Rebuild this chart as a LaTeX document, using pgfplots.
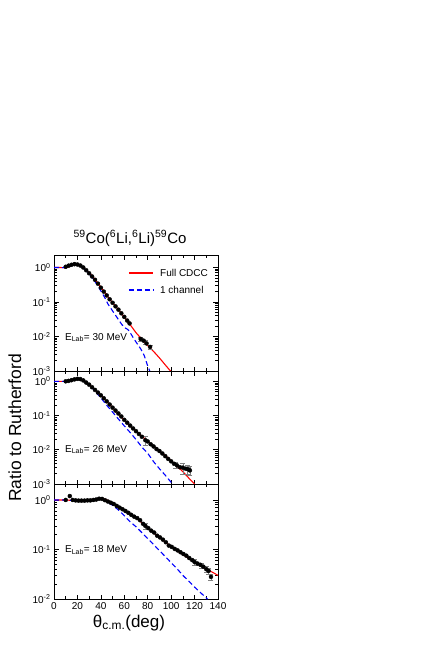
\documentclass[border=0pt]{standalone}
\usepackage{fontspec}
\setmainfont{Liberation Sans}
\usepackage{pgfplots}
\pgfplotsset{compat=1.18}

\definecolor{cdcc}{RGB}{255,0,0}
\definecolor{onech}{RGB}{0,0,255}

\begin{document}
\begin{tikzpicture}
\useasboundingbox (0,0) rectangle (436pt,-654pt);

\node[anchor=base, font=\fontsize{15}{18}\selectfont] at (130pt,-243pt)
  {\textsuperscript{59}Co(\textsuperscript{6}Li,\textsuperscript{6}Li)\textsuperscript{59}Co};

% 30 MeV
\begin{axis}[at={(54pt,-255pt)}, anchor=north west,
  scale only axis, width=164pt, height=116pt,
  xmin=0, xmax=140, ymode=log, ymin=0.001, ymax=2.3,
  xtick={0,20,40,60,80,100,120,140}, minor x tick num=1, xticklabels={},
  ytick={0.001,0.01,0.1,1},
  yticklabels={10\textsuperscript{-3},10\textsuperscript{-2},10\textsuperscript{-1},10\textsuperscript{0}},
  tick align=inside, axis line style={line width=0.9pt}, tick style={line width=0.7pt, black},
  major tick length=4.5pt, minor tick length=2.6pt,
  ticklabel style={font=\fontsize{10}{12}\selectfont}]
\addplot[draw=cdcc, line width=1.1pt, mark=none] coordinates {
(0,1) (5,1) (8,0.99) (10,0.98) (13,1.05) (16,1.2) (19,1.26) (22,1.17) (25,0.98)
(28,0.82) (31,0.65) (34,0.5) (37,0.37) (40,0.27) (43,0.2) (46,0.141) (50,0.095)
(55,0.06) (60,0.037) (65,0.022) (70,0.0129) (75,0.0083) (80,0.0055) (85,0.0037)
(90,0.0024) (95,0.0015) (100,0.00095)};
\addplot[draw=onech, line width=1.1pt, mark=none, dash pattern=on 5pt off 3pt] coordinates {
(0,1) (5,1) (8,0.99) (10,0.98) (13,1.05) (16,1.18) (19,1.22) (22,1.12) (25,0.95)
(28,0.78) (31,0.6) (34,0.44) (37,0.31) (40,0.21) (43,0.14) (46,0.088) (50,0.055)
(55,0.031) (58,0.022) (61,0.0175) (63,0.016) (65,0.013) (68,0.0088) (71,0.0062)
(74,0.0044) (77,0.0028) (80,0.0014) (82,0.00095)};
\addplot[draw=none, mark=none,
  error bars/.cd, y dir=both, y explicit relative,
  error bar style={gray, line width=0.5pt},
  error mark options={gray, rotate=90, mark size=2.5pt}] coordinates {
(74,0.0085) +- (0,0.12) (78,0.0068) +- (0,0.12) (82,0.005) +- (0,0.15)};
\addplot[only marks, mark=*, mark size=2pt, black] coordinates {
(10,1.05) (12.5,1.13) (15,1.2) (17.5,1.25) (20,1.22) (22.5,1.14) (25,1.0)
(27.5,0.83) (30,0.68) (32.5,0.55) (35,0.44) (37.5,0.34) (40,0.26) (42.5,0.2)
(45,0.155) (47.5,0.12) (50,0.095) (52.5,0.075) (55,0.06) (57.5,0.047)
(60,0.037) (62.5,0.029) (64.5,0.024)
(74,0.0085) (76.5,0.0076) (79,0.0063) (82,0.005)};
% legend
\draw[draw=cdcc, line width=1.1pt] (rel axis cs:0.457,0.845) -- (rel axis cs:0.604,0.845);
\node[anchor=west, font=\fontsize{10}{12}\selectfont, inner sep=0pt] at (rel axis cs:0.646,0.845) {Full CDCC};
\draw[draw=onech, line width=1.1pt, dash pattern=on 5pt off 3pt] (rel axis cs:0.457,0.698) -- (rel axis cs:0.604,0.698);
\node[anchor=west, font=\fontsize{10}{12}\selectfont, inner sep=0pt] at (rel axis cs:0.646,0.698) {1 channel};
\node[anchor=west, font=\fontsize{10}{12}\selectfont] at (axis cs:6.5,0.0093)
  {E\textsubscript{Lab}= 30 MeV};
\end{axis}

% 26 MeV
\begin{axis}[at={(54pt,-371pt)}, anchor=north west,
  scale only axis, width=164pt, height=113pt,
  xmin=0, xmax=140, ymode=log, ymin=0.001, ymax=2.0,
  xtick={0,20,40,60,80,100,120,140}, minor x tick num=1, xticklabels={},
  ytick={0.001,0.01,0.1,1},
  yticklabels={10\textsuperscript{-3},10\textsuperscript{-2},10\textsuperscript{-1},10\textsuperscript{0}},
  tick align=inside, axis line style={line width=0.9pt}, tick style={line width=0.7pt, black},
  major tick length=4.5pt, minor tick length=2.6pt,
  ticklabel style={font=\fontsize{10}{12}\selectfont}]
\addplot[draw=cdcc, line width=1.1pt, mark=none] coordinates {
(0,1) (10,1) (14,1.07) (18,1.17) (21,1.2) (24,1.12) (27,0.95) (30,0.81) (33,0.66)
(36,0.52) (40,0.39) (45,0.26) (50,0.17) (55,0.112) (60,0.074) (65,0.05) (70,0.035)
(75,0.025) (80,0.0178) (85,0.0126) (90,0.0093) (95,0.0068) (100,0.0048)
(105,0.0033) (110,0.0023) (115,0.0015) (120,0.001)};
\addplot[draw=onech, line width=1.1pt, mark=none, dash pattern=on 5pt off 3pt] coordinates {
(0,1) (10,1) (14,1.07) (18,1.17) (21,1.2) (24,1.12) (27,0.93) (30,0.78) (33,0.62)
(36,0.47) (40,0.33) (45,0.2) (50,0.126) (55,0.079) (60,0.05) (65,0.032) (70,0.02)
(75,0.012) (80,0.0079) (85,0.0045) (90,0.0028) (95,0.0018) (100,0.00112) (102,0.00095)};
\addplot[draw=none, mark=none,
  error bars/.cd, y dir=both, y explicit relative,
  error bar style={gray, line width=0.5pt},
  error mark options={gray, rotate=90, mark size=2.5pt}] coordinates {
(78,0.019) +- (0,0.3) (104,0.0037) +- (0,0.2) (110,0.003) +- (0,0.35)
(114,0.0027) +- (0,0.3) (116,0.0025) +- (0,0.3)};
\addplot[only marks, mark=*, mark size=2pt, black] coordinates {
(10,1.0) (12.5,1.03) (15,1.08) (17.5,1.14) (20,1.18) (22.5,1.16) (25,1.06)
(27.5,0.92) (30,0.8) (32.5,0.67) (35,0.56) (37.5,0.47) (40,0.39) (42.5,0.32)
(45,0.26) (47.5,0.21) (50,0.17) (52.5,0.14) (55,0.115) (57.5,0.094) (60,0.075)
(62.5,0.062) (65,0.051) (67.5,0.042) (70,0.035) (72.5,0.029) (75,0.024)
(78,0.019) (80,0.0175) (82.5,0.0145) (85,0.0125) (87.5,0.0105) (90,0.0092)
(92.5,0.0078) (95,0.0065) (97.5,0.0054) (100,0.0046) (102.5,0.0039)
(105,0.0035) (107.5,0.0031) (110,0.003) (112.5,0.0028) (114.5,0.0027) (116,0.0025)};
\node[anchor=west, font=\fontsize{10}{12}\selectfont] at (axis cs:6.5,0.0102)
  {E\textsubscript{Lab}= 26 MeV};
\end{axis}

% 18 MeV
\begin{axis}[at={(54pt,-484pt)}, anchor=north west,
  scale only axis, width=164pt, height=115pt,
  xmin=0, xmax=140, ymode=log, ymin=0.01, ymax=2.1,
  xtick={0,20,40,60,80,100,120,140}, minor x tick num=1,
  ytick={0.01,0.1,1},
  yticklabels={10\textsuperscript{-2},10\textsuperscript{-1},10\textsuperscript{0}},
  tick align=inside, axis line style={line width=0.9pt}, tick style={line width=0.7pt, black},
  major tick length=4.5pt, minor tick length=2.6pt,
  ticklabel style={font=\fontsize{10}{12}\selectfont},
  /pgf/number format/assume math mode=true]
\addplot[draw=cdcc, line width=1.1pt, mark=none] coordinates {
(0,1) (5,1) (10,1) (15,0.98) (20,0.98) (25,0.99) (30,1.0) (35,1.05) (38,1.08)
(40,1.08) (43,1.05) (46,0.98) (50,0.87) (55,0.74) (60,0.63) (65,0.525) (70,0.437)
(75,0.347) (80,0.275) (85,0.219) (90,0.174) (95,0.141) (100,0.115) (105,0.095)
(110,0.079) (115,0.066) (120,0.055) (125,0.047) (130,0.04) (135,0.035) (140,0.03)};
\addplot[draw=onech, line width=1.1pt, mark=none, dash pattern=on 5pt off 3pt] coordinates {
(0,1) (5,1) (10,1) (15,0.98) (20,0.98) (25,0.99) (30,1.0) (35,1.05) (38,1.08)
(40,1.08) (45,0.93) (50,0.78) (55,0.63) (60,0.48) (65,0.363) (70,0.288)
(75,0.219) (80,0.166) (85,0.126) (90,0.095) (95,0.072) (100,0.054) (105,0.041)
(110,0.03) (115,0.023) (120,0.0174) (125,0.0135) (130,0.0105) (131,0.0099)};
\addplot[draw=none, mark=none,
  error bars/.cd, y dir=both, y explicit relative,
  error bar style={gray, line width=0.5pt},
  error mark options={gray, rotate=90, mark size=2.5pt}] coordinates {
(78,0.3) +- (0,0.15) (120,0.056) +- (0,0.12) (126,0.047) +- (0,0.12)
(130,0.04) +- (0,0.15) (132,0.037) +- (0,0.15) (134,0.028) +- (0,0.15)};
\addplot[only marks, mark=*, mark size=2pt, black] coordinates {
(10,1.0) (13.5,1.2) (16,1.0) (18.5,0.98) (21,0.97) (23.5,0.97) (26,0.97)
(28.5,0.98) (31,0.98) (33.5,1.0) (36,1.02) (38.5,1.06) (41,1.05) (43.5,0.99)
(46,0.93) (48.5,0.88) (51,0.83) (53.5,0.76) (56,0.7) (58.5,0.65) (61,0.6)
(63.5,0.55) (66,0.5) (68.5,0.46) (71,0.43) (73.5,0.39) (76,0.33) (78,0.3)
(80.5,0.27) (83,0.24) (85.5,0.22) (88,0.19) (90.5,0.175) (93,0.158)
(95.5,0.14) (98,0.12) (100.5,0.113) (103,0.103) (105.5,0.096) (108,0.088)
(110.5,0.081) (113,0.075) (115.5,0.067) (118,0.061) (120,0.056) (122.5,0.052)
(125,0.049) (127.5,0.045) (130,0.04) (132,0.037) (134,0.028)};
\node[anchor=west, font=\fontsize{10}{12}\selectfont] at (axis cs:6.5,0.098)
  {E\textsubscript{Lab}= 18 MeV};
\end{axis}

\node[anchor=base, font=\fontsize{17}{20}\selectfont] at (129pt,-627pt)
  {θ\textsubscript{c.m.}(deg)};
\node[anchor=base, rotate=90, font=\fontsize{17.5}{20}\selectfont] at (21pt,-428pt)
  {Ratio to Rutherford};
\end{tikzpicture}
\end{document}
